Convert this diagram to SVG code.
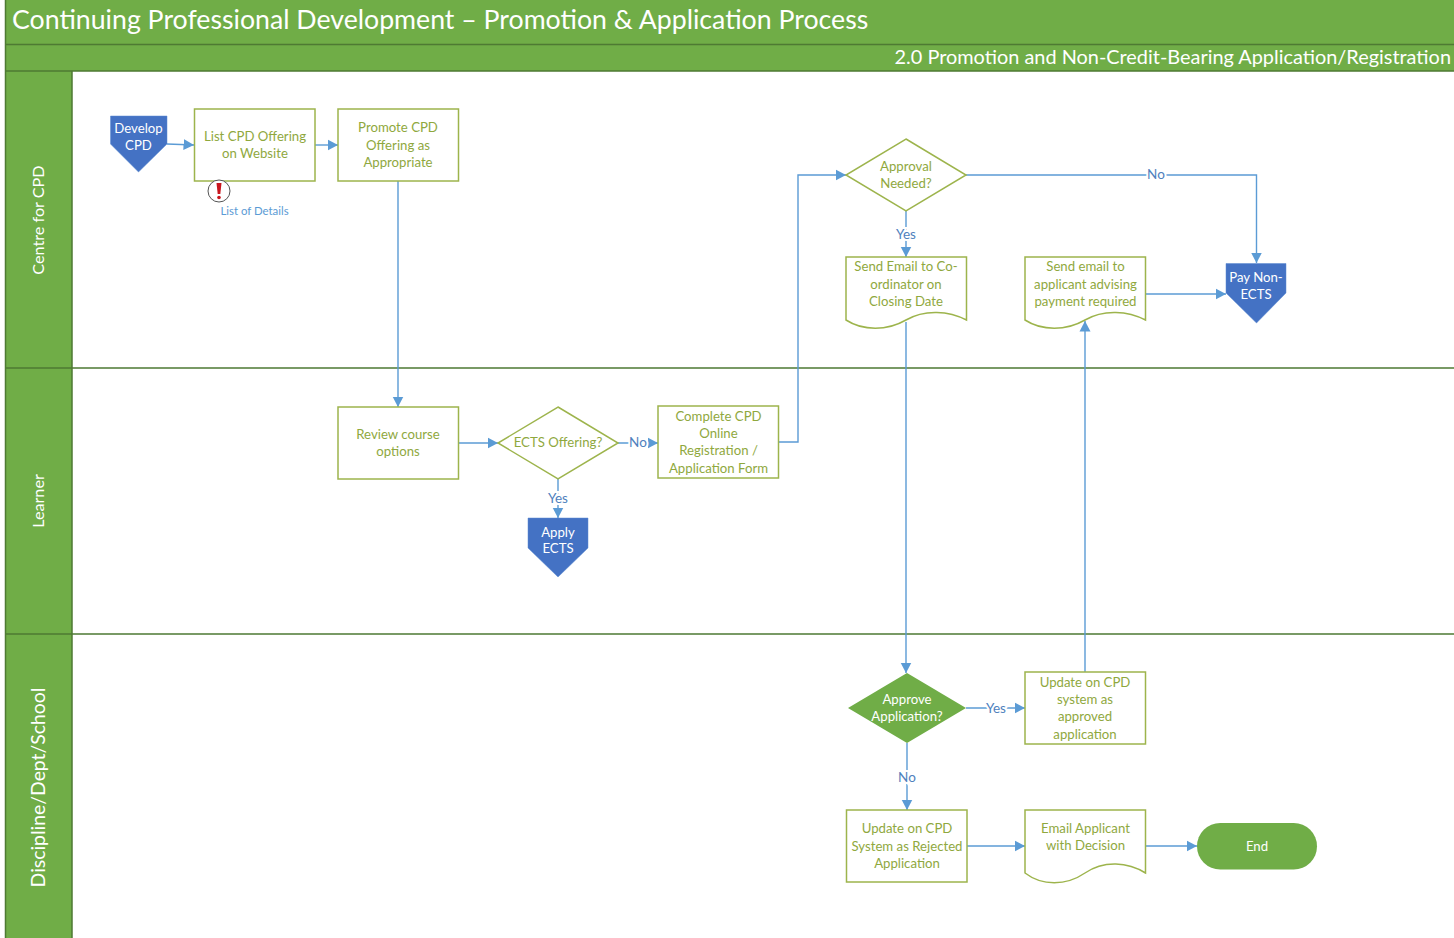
<svg xmlns="http://www.w3.org/2000/svg" width="1454" height="938" viewBox="0 0 1454 938">
<style>
text{font-family:"Lato","Open Sans","Liberation Sans",sans-serif}
.p{fill:#fff;stroke:#9DB44C;stroke-width:1.5}
.t{fill:#8FA83E;font-size:13.200px;text-anchor:middle}
.w{fill:#fff;font-size:13.200px;text-anchor:middle}
.b{fill:#4472C4;stroke:#5B8BD0;stroke-width:.5}
.g{fill:#70AD47}
.c{fill:none;stroke:#5B9BD5;stroke-width:1.4;marker-end:url(#a)}
.l{fill:#4F81BD;font-size:13.500px;text-anchor:middle;stroke:#fff;stroke-width:4px;paint-order:stroke}
.d{stroke:#4E7A33;stroke-width:1.5;fill:none}
.s{fill:#fff;text-anchor:middle}
</style>
<defs><marker id="a" markerUnits="userSpaceOnUse" markerWidth="11" markerHeight="12" refX="10.500" refY="6" orient="auto"><path d="M0 .5L10.500 6L0 11.500Z" fill="#5B9BD5"/></marker></defs>
<rect width="1454" height="938" fill="#fff"/>
<g id="swimlanes">
<rect class="g" x="5" y="0" width="1449" height="71"/>
<rect class="g" x="5" y="71" width="67" height="867"/>
<path class="d" d="M5.500 0V938M5 44.500H1454M5 71H1454M72 71V938M5 368H1454M5 634H1454"/>
<text x="12" y="29" fill="#fff" font-size="26.700">Continuing Professional Development – Promotion &amp; Application Process</text>
<text x="1451" y="64" fill="#fff" font-size="19.900" text-anchor="end">2.0 Promotion and Non-Credit-Bearing Application/Registration</text>
<text class="s" transform="translate(44 220) rotate(-90)" font-size="16.200">Centre for CPD</text>
<text class="s" transform="translate(44 501) rotate(-90)" font-size="16.200">Learner</text>
<text class="s" transform="translate(45 787.500) rotate(-90)" font-size="19.400">Discipline/Dept/School</text>
</g>
<g id="connectors">
<path class="c" d="M167 144L194 145"/>
<path class="c" d="M315 145H338"/>
<path class="c" d="M398 181V407"/>
<path class="c" d="M459 443H498"/>
<path class="c" d="M618 443H658"/>
<path class="c" d="M558 479V518"/>
<path class="c" d="M779 442H798V175H846"/>
<path class="c" d="M966 175H1256.500V263"/>
<path class="c" d="M906 211V257"/>
<path class="c" d="M906 322V673"/>
<path class="c" d="M1146 294H1226"/>
<path class="c" d="M1085 672V321"/>
<path class="c" d="M966 708H1025"/>
<path class="c" d="M907 743V810"/>
<path class="c" d="M967 846H1025"/>
<path class="c" d="M1146 846H1197"/>
<text class="l" x="638" y="447">No</text>
<text class="l" x="558" y="503">Yes</text>
<text class="l" x="1156" y="179">No</text>
<text class="l" x="906" y="239">Yes</text>
<text class="l" x="996" y="713">Yes</text>
<text class="l" x="907" y="782">No</text>
</g>
<g id="develop-cpd"><path class="b" d="M110.500 116H167V144L138.500 172L110.500 144Z"/><text class="w" x="138.500" y="133">Develop</text><text class="w" x="138.500" y="150">CPD</text></g>
<g id="list-cpd"><rect class="p" x="194.500" y="109" width="120.500" height="72"/><text class="t" x="255" y="141">List CPD Offering</text><text class="t" x="255" y="158">on Website</text></g>
<g id="warning-icon"><circle cx="219" cy="191" r="11" fill="#fff" stroke="#555" stroke-width="1"/><path d="M216.500 183H221.500L220.300 194H217.700Z" fill="#C8161D"/><circle cx="219" cy="197.500" r="1.800" fill="#C8161D"/><text x="254.500" y="215" font-size="11.400" fill="#5B9BD5" text-anchor="middle">List of Details</text></g>
<g id="promote-cpd"><rect class="p" x="338" y="109" width="120.500" height="72"/><text class="t" x="398" y="132">Promote CPD</text><text class="t" x="398" y="150">Offering as</text><text class="t" x="398" y="167">Appropriate</text></g>
<g id="review-course"><rect class="p" x="338" y="407" width="120.500" height="72"/><text class="t" x="398" y="439">Review course</text><text class="t" x="398" y="456">options</text></g>
<g id="ects-offering"><path class="p" d="M558 407L618 443L558 479L498 443Z"/><text class="t" x="558" y="447">ECTS Offering?</text></g>
<g id="complete-cpd"><rect class="p" x="658" y="406" width="120.500" height="72"/><text class="t" x="718.500" y="421">Complete CPD</text><text class="t" x="718.500" y="438">Online</text><text class="t" x="718.500" y="455">Registration /</text><text class="t" x="718.500" y="473">Application Form</text></g>
<g id="apply-ects"><path class="b" d="M528 518H588V548L558 577L528 548Z"/><text class="w" x="558" y="537">Apply</text><text class="w" x="558" y="553">ECTS</text></g>
<g id="approval-needed"><path class="p" d="M906 139L966 175L906 211L846 175Z"/><text class="t" x="906" y="171">Approval</text><text class="t" x="906" y="188">Needed?</text></g>
<g id="send-email-coordinator"><path class="p" d="M846 257H966.500V320C949 311 925 309 906 320C887 331 863 331 846 320Z"/><text class="t" x="906" y="271">Send Email to Co-</text><text class="t" x="906" y="289">ordinator on</text><text class="t" x="906" y="306">Closing Date</text></g>
<g id="send-email-applicant"><path class="p" d="M1025 257H1145.500V320C1128 311 1104 309 1085 320C1066 331 1042 331 1025 320Z"/><text class="t" x="1085.500" y="271">Send email to</text><text class="t" x="1085.500" y="289">applicant advising</text><text class="t" x="1085.500" y="306">payment required</text></g>
<g id="pay-non-ects"><path class="b" d="M1226 263.500H1286V293L1256.500 323L1226 293Z"/><text class="w" x="1256" y="282">Pay Non-</text><text class="w" x="1256" y="299">ECTS</text></g>
<g id="approve-application"><path class="g" d="M907 673L966 708L907 743L848 708Z"/><text class="w" x="907" y="704">Approve</text><text class="w" x="907" y="721">Application?</text></g>
<g id="update-approved"><rect class="p" x="1025" y="672" width="120.500" height="72"/><text class="t" x="1085" y="687">Update on CPD</text><text class="t" x="1085" y="704">system as</text><text class="t" x="1085" y="721">approved</text><text class="t" x="1085" y="739">application</text></g>
<g id="update-rejected"><rect class="p" x="846.500" y="810" width="120.500" height="72"/><text class="t" x="907" y="833">Update on CPD</text><text class="t" x="907" y="851">System as Rejected</text><text class="t" x="907" y="868">Application</text></g>
<g id="email-applicant"><path class="p" d="M1025 810H1145.500V873C1128 862 1104 860 1085 873C1066 886 1042 886 1025 873Z"/><text class="t" x="1085.500" y="833">Email Applicant</text><text class="t" x="1085.500" y="850">with Decision</text></g>
<g id="end"><rect class="g" x="1197" y="823" width="120" height="46.500" rx="23.250"/><text class="w" x="1257" y="851">End</text></g>
</svg>
